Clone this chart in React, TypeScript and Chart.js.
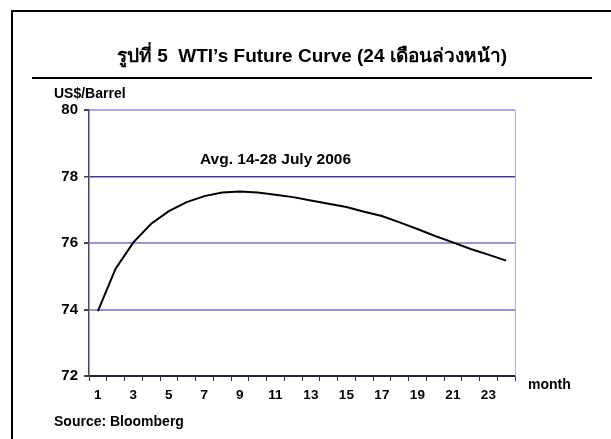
import React, { useEffect, useRef } from "react";
import { Chart, registerables } from "chart.js";

Chart.register(...registerables);

const months: string[] = [
  "1", "2", "3", "4", "5", "6", "7", "8", "9", "10", "11", "12",
  "13", "14", "15", "16", "17", "18", "19", "20", "21", "22", "23", "24",
];
const prices: number[] = [
  73.95, 75.23, 76.02, 76.58, 76.96, 77.23, 77.41, 77.52, 77.55, 77.52, 77.45, 77.38,
  77.28, 77.18, 77.08, 76.94, 76.81, 76.62, 76.42, 76.21, 76.02, 75.82, 75.65, 75.47,
];
const yTicks: number[] = [72, 74, 76, 78, 80];

const titleText = "รูปที่ 5  WTI’s Future Curve (24 เดือนล่วงหน้า)";
const unitText = "US$/Barrel";
const seriesText = "Avg. 14-28 July 2006";
const xAxisText = "month";
const sourceText = "Source: Bloomberg";

const FONT = '"Liberation Sans", Arial, "DejaVu Sans", sans-serif';

const decorPlugin = {
  id: "decor",
  afterDraw(chart: any) {
    const ctx = chart.ctx as CanvasRenderingContext2D;
    const area = chart.chartArea;
    ctx.save();
    // outer frame
    ctx.strokeStyle = "#000";
    ctx.lineWidth = 2;
    ctx.beginPath();
    ctx.moveTo(12, 445);
    ctx.lineTo(12, 11);
    ctx.lineTo(620, 11);
    ctx.stroke();
    // underline below title
    ctx.lineWidth = 2;
    ctx.beginPath();
    ctx.moveTo(32, 78);
    ctx.lineTo(592, 78);
    ctx.stroke();
    // right border of plot
    ctx.strokeStyle = "#b9a3f2";
    ctx.lineWidth = 1;
    ctx.beginPath();
    ctx.moveTo(area.right + 0.5, area.top);
    ctx.lineTo(area.right + 0.5, area.bottom);
    ctx.stroke();
    // texts
    ctx.fillStyle = "#000";
    ctx.textBaseline = "middle";
    ctx.textAlign = "center";
    ctx.font = `bold 19px ${FONT}`;
    ctx.fillText(titleText, 312, 57);
    ctx.textAlign = "left";
    ctx.font = `bold 14px ${FONT}`;
    ctx.fillText(unitText, 54, 94);
    ctx.font = `bold 15.5px ${FONT}`;
    ctx.fillText(seriesText, 200, 160);
    ctx.font = `bold 14px ${FONT}`;
    ctx.fillText(xAxisText, 528, 385);
    ctx.fillText(sourceText, 54, 422);
    ctx.restore();
  },
};

export default function App() {
  const ref = useRef<HTMLCanvasElement | null>(null);
  useEffect(() => {
    if (!ref.current) return;
    const chart = new Chart(ref.current, {
      type: "line",
      data: {
        labels: months,
        datasets: [
          {
            data: prices,
            borderColor: "#000",
            borderWidth: 2,
            pointRadius: 0,
            tension: 0,
            fill: false,
          },
        ],
      },
      options: {
        responsive: false,
        animation: false,
        events: [],
        layout: { padding: { top: 110, right: 96, left: 0, bottom: 0 } },
        plugins: { legend: { display: false }, tooltip: { enabled: false }, title: { display: false } },
        scales: {
          x: {
            type: "category",
            offset: true,
            afterFit: (s: any) => {
              s.height = 63;
            },
            grid: {
              offset: true,
              drawOnChartArea: false,
              tickLength: 5,
              color: "#333",
            },
            border: { color: "#23233f", width: 1.5 },
            ticks: {
              autoSkip: false,
              maxRotation: 0,
              padding: 6,
              color: "#000",
              font: { family: FONT, size: 13.5, weight: "bold" },
              callback: (_v: any, i: number) => (i % 2 === 0 ? months[i] : ""),
            },
          },
          y: {
            min: 72,
            max: 80,
            afterFit: (s: any) => {
              s.width = 89;
            },
            afterBuildTicks: (s: any) => {
              s.ticks = yTicks.map((v) => ({ value: v }));
            },
            grid: {
              color: (c: any) => {
                const v = c.tick ? c.tick.value : 0;
                if (v === 80) return "#b9a3f2";
                if (v === 78) return "#3d3da6";
                if (v === 72) return "#23233f";
                return "#9494d6";
              },
              lineWidth: (c: any) => (c.tick && c.tick.value === 78 ? 1.5 : 2),
              tickLength: 5,
              tickColor: "#444",
            },
            border: { color: "#4b4366", width: 1.5 },
            ticks: {
              padding: 6,
              color: "#000",
              font: { family: FONT, size: 15, weight: "bold" },
            },
          },
        },
      },
      plugins: [decorPlugin],
    });
    return () => chart.destroy();
  }, []);
  return (
    <div style={{ position: "absolute", left: 0, top: 0, width: 611, height: 439, background: "#fff" }}>
      <canvas ref={ref} width={611} height={439} style={{ display: "block" }} />
    </div>
  );
}
